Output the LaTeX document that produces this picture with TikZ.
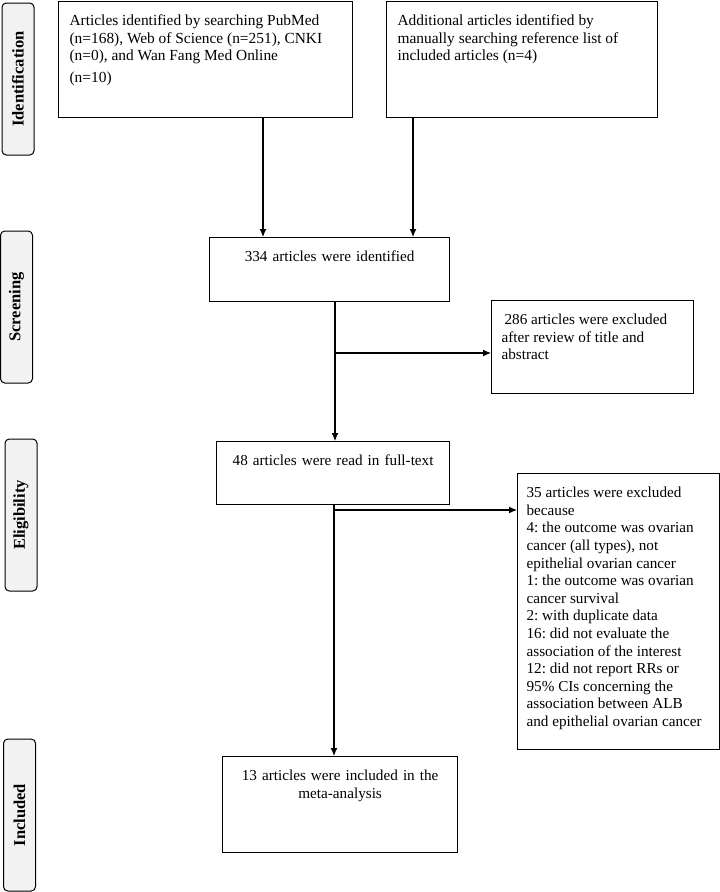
\documentclass[tikz,border=0pt]{standalone}
\usepackage{fontspec}
\setmainfont{Liberation Serif}
\usetikzlibrary{arrows.meta}

\tikzstyle{main}  = [draw, line width=1.2pt, inner xsep=11pt, inner ysep=13pt, text height=11pt, anchor=north west, execute at begin node=\frenchspacing]
\tikzstyle{lbox}  = [main, align=flush left]
\tikzstyle{cbox}  = [main, align=center]
\tikzstyle{ftop}  = [font=\fontsize{15.4}{17.6}\selectfont]
\tikzstyle{fmid}  = [font=\fontsize{15.2}{17.6}\selectfont]
\tikzstyle{stage} = [draw, line width=1pt, fill=gray!10, rounded corners=1.5mm, rotate=90, inner sep=0pt, minimum width=152pt, minimum height=32pt, font=\fontsize{16.5}{18}\selectfont\bfseries]
\tikzstyle{arr}   = [-{Latex[length=8pt,width=7pt]}, line width=1.1pt]

\begin{document}
\begin{tikzpicture}[x=1pt, y=-1pt]
  \useasboundingbox (0,0) rectangle (720,892);

  % stages
  \node[stage] (sid)  at (18,79)    {Identification};
  \node[stage] (sscr) at (16.5,307) {Screening};
  \node[stage] (selg) at (21,515)   {Eligibility};
  \node[stage] (sinc) at (19.5,815) {Included};

  % boxes
  \node[lbox, ftop, text width=272pt, text depth=79pt] (db) at (58,1)
    {Articles identified by searching PubMed\\(n=168), Web of Science (n=251), CNKI\\(n=0), and Wan Fang Med Online\\[4.5pt](n=10)};
  \node[lbox, ftop, text width=249pt, text depth=79pt] (add) at (386,1)
    {Additional articles identified by\\manually searching reference list of\\included articles (n=4)};
  \node[cbox, fmid, text width=218pt, text depth=27pt] (iden) at (209,237)
    {334 articles were identified};
  \node[lbox, fmid, inner xsep=10pt, text width=182pt, text depth=56pt] (excl1) at (491,300)
    {\hspace{3pt}286 articles were excluded\\after review of title and\\abstract};
  \node[cbox, fmid, text width=211pt, text depth=26pt] (full) at (216,441)
    {48 articles were read in full-text};
  \node[lbox, fmid, inner xsep=9pt, text width=184pt, text depth=239pt] (excl2) at (517,473)
    {35 articles were excluded\\because\\4: the outcome was ovarian\\cancer (all types), not\\epithelial ovarian cancer\\1: the outcome was ovarian\\cancer survival\\2: with duplicate data\\16: did not evaluate the\\association of the interest\\12: did not report RRs or\\95\% CIs concerning the\\association between ALB\\and epithelial ovarian cancer};
  \node[cbox, fmid, text width=213pt, text depth=59pt] (incl) at (222,756)
    {13 articles were included in the\\meta-analysis};

  % connectors
  \coordinate (t1) at (263,237);
  \coordinate (t2) at (413,237);
  \coordinate (j1) at (335,353);
  \coordinate (j2) at (334,510);
  \draw[arr] (db.south -| t1) -- (t1);
  \draw[arr] (add.south -| t2) -- (t2);
  \draw[arr] (iden.south -| j1) -- (full.north -| j1);
  \draw[arr] (j1) -- (j1 -| excl1.west);
  \draw[arr] (full.south -| j2) -- (incl.north -| j2);
  \draw[arr] (j2) -- (j2 -| excl2.west);
\end{tikzpicture}
\end{document}
